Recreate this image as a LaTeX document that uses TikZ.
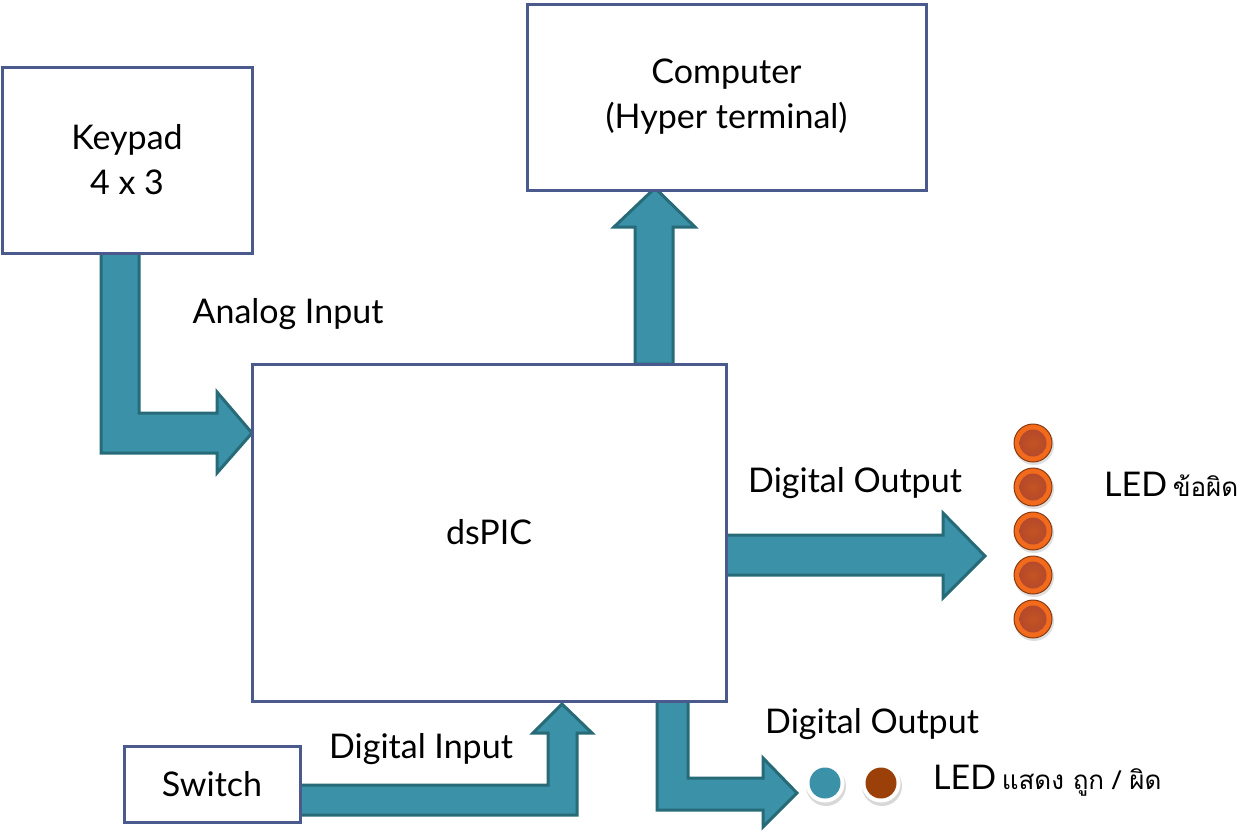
\documentclass[tikz,border=0pt]{standalone}
\usepackage{fontspec}
\setmainfont{Lato}
\newfontfamily\thaifont[Script=Thai]{Loma}
\usetikzlibrary{backgrounds,shadows}
\definecolor{boxline}{HTML}{4A5A8C}
\definecolor{arrfill}{HTML}{3B91A7}
\definecolor{arrline}{HTML}{276A78}
\definecolor{ledring}{HTML}{F26A1B}
\definecolor{ledin}{HTML}{B5492B}
\definecolor{ledout}{HTML}{8A3A10}
\definecolor{ledteal}{HTML}{3A91A8}
\definecolor{ledbrown}{HTML}{9A4008}
\tikzset{
  blk/.style={draw=boxline, line width=3pt, fill=white, rectangle, inner sep=0pt, outer sep=0pt, align=center, font=\fontsize{34}{45}\selectfont},
  blockarrow/.style={fill=arrfill, draw=arrline, line width=3pt, line join=miter},
  lbl/.style={inner sep=0pt, font=\fontsize{34}{40}\selectfont},
}
\newcommand{\thaitxt}[1]{{\thaifont\fontsize{26}{30}\selectfont #1}}
\begin{document}
\begin{tikzpicture}[x=1pt,y=-1pt]
\useasboundingbox (0,0) rectangle (1259,831);
% boxes
\node[blk, minimum width=250, minimum height=186] (kp) at (127,160) {Keypad\\4 x 3};
\node[blk, minimum width=399, minimum height=186] (pc) at (726.5,97) {Computer\\(Hyper terminal)};
\node[blk, minimum width=474, minimum height=337] (ds) at (489,532.5) {dsPIC};
\node[blk, minimum width=176, minimum height=76] (sw) at (212,784) {Switch};
% block arrows
\begin{scope}[on background layer]
\draw[blockarrow] (101,251) -- (139,251) -- (139,413) -- (217,413) -- (217,392) -- (252,433) -- (217,473) -- (217,453) -- (101,453) -- cycle;
\draw[blockarrow] (635,364) -- (635,227) -- (614,227) -- (655,188) -- (695,227) -- (673,227) -- (673,364) -- cycle;
\draw[blockarrow] (726,535) -- (943,535) -- (943,513) -- (985,556) -- (943,598) -- (943,575) -- (726,575) -- cycle;
\draw[blockarrow] (657,701) -- (688,701) -- (688,778) -- (763,778) -- (763,758) -- (797,793) -- (763,827) -- (763,810) -- (657,810) -- cycle;
\draw[blockarrow] (300,785) -- (548,785) -- (548,733) -- (533,733) -- (562,704) -- (592,733) -- (577,733) -- (577,815) -- (300,815) -- cycle;
\end{scope}
% labels
\node[lbl] (l1) at (288,314) {Analog Input};
\node[lbl] (l2) at (855,483) {Digital Output};
\node[lbl] (l3) at (872,724) {Digital Output};
\node[lbl] (l4) at (421,749) {Digital Input};
% LED column
\foreach \i/\yy in {1/443,2/487,3/531,4/575,5/619}{
  \fill[black!25, opacity=0.5] (1034,\yy+2) circle (20);
  \fill[ledring] (1033,\yy) circle (19);
  \draw[ledout, line width=1pt] (1033,\yy) circle (19);
  \shade[inner color=ledin!80!orange, outer color=ledin] (1033,\yy) circle (13.5);
  \coordinate (led\i) at (1033,\yy);
}
\node[lbl, anchor=west] (ledA) at (1104,484) {LED\,\thaitxt{ข้อผิด}};
% bottom LEDs
\fill[black!30, opacity=0.5] (826,786) circle (20);
\fill[white] (825,783) circle (19.5);
\fill[ledteal] (825,783) circle (15.5);
\fill[black!30, opacity=0.5] (882,786) circle (20);
\fill[white] (881,783) circle (19.5);
\fill[ledbrown] (881,783) circle (15.5);
\node[lbl, anchor=west] (ledB) at (933,781) {LED\,\thaitxt{แสดง ถูก / ผิด}};
\end{tikzpicture}
\end{document}
